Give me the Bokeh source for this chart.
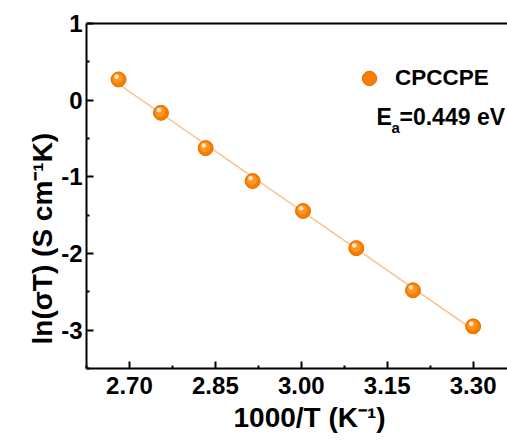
import numpy as np
from bokeh.plotting import figure
from bokeh.models import (Range1d, FixedTicker, NumeralTickFormatter, Legend, LegendItem,
                          Label, LinearAxis, ColumnDataSource, Title)
from bokeh.transform import dodge
from bokeh.embed import file_html
from bokeh.resources import INLINE

# ---- data ----
inv_T = [2.681, 2.755, 2.833, 2.915, 3.003, 3.096, 3.195, 3.300]
ln_sigma_T = [0.27, -0.165, -0.625, -1.055, -1.445, -1.93, -2.48, -2.95]
series_name = "CPCCPE"
ea_value = "=0.449 eV"
x_ticks = [2.70, 2.85, 3.00, 3.15, 3.30]
y_ticks = [-3, -2, -1, 0, 1]
y_tick_labels = ["-3", "-2", "-1", "0", "1"]
x_title = "1000/T (K\u207b\u00b9)"
y_title = "ln(\u03c3T) (S cm\u207b\u00b9K)"

FONT = "Liberation Sans"

p = figure(width=507, height=443, output_backend="svg", toolbar_location=None,
           x_range=Range1d(2.625, 3.36), y_range=Range1d(-3.5, 1.0),
           min_border_left=86, min_border_right=0, min_border_top=23, min_border_bottom=75)
p.outline_line_color = None
p.xgrid.visible = False
p.ygrid.visible = False
p.background_fill_color = "white"
p.border_fill_color = "white"

# fit line
k, b = np.polyfit(inv_T, ln_sigma_T, 1)
xl = [min(inv_T), max(inv_T)]
p.line(xl, [k * v + b for v in xl], line_color="#F9C898", line_width=1.6)

src = ColumnDataSource(dict(x=inv_T, y=ln_sigma_T))
r_base = p.scatter("x", "y", source=src, size=15, fill_color="#F67D00", line_color="#E87000", line_width=1)
r_mid = p.scatter(dodge("x", -0.0012, range=p.x_range), dodge("y", 0.012, range=p.y_range), source=src,
                  size=10, fill_color="#FF9522", line_color=None)
r_hi = p.scatter(dodge("x", -0.0035, range=p.x_range), dodge("y", 0.035, range=p.y_range), source=src,
                 size=4.5, fill_color="#FFE8D0", line_color=None)

# axes styling
for ax in (p.xaxis[0], p.yaxis[0]):
    ax.axis_line_width = 2
    ax.axis_line_color = "black"
    ax.major_tick_line_width = 2
    ax.minor_tick_line_width = 2
    ax.major_tick_in = 7
    ax.major_tick_out = 0
    ax.minor_tick_in = 3
    ax.minor_tick_out = 0
    ax.major_label_text_font = FONT
    ax.major_label_text_font_style = "bold"
    ax.major_label_text_font_size = "24px"
    ax.major_label_text_color = "black"

p.xaxis.ticker = FixedTicker(ticks=x_ticks, minor_ticks=[2.625, 2.775, 2.925, 3.075, 3.225])
p.xaxis.formatter = NumeralTickFormatter(format="0.00")
p.yaxis.ticker = FixedTicker(ticks=y_ticks, minor_ticks=[-3.5, -2.5, -1.5, -0.5, 0.5])
p.yaxis.major_label_overrides = {t: s for t, s in zip(y_ticks, y_tick_labels)}
p.xaxis.major_label_standoff = 8
p.yaxis.major_label_standoff = 4

# axis titles as side-panel titles, positioned like the reference
xt = Title(text=x_title, align="left", offset=147, text_font=FONT, text_font_style="bold",
           text_font_size="28px", text_color="black", standoff=7)
p.add_layout(xt, "below")
yt = Title(text=y_title, align="left", offset=24, text_font=FONT, text_font_style="bold",
           text_font_size="28px", text_color="black", standoff=2)
p.add_layout(yt, "left")

top = LinearAxis(ticker=FixedTicker(ticks=[]), axis_line_width=2, axis_line_color="black",
                 major_tick_line_color=None, minor_tick_line_color=None,
                 major_label_text_font_size="0px")
p.add_layout(top, "above")

legend = Legend(items=[LegendItem(label=series_name, renderers=[r_base])],
                location=(265, 272), border_line_color=None, background_fill_alpha=0,
                label_text_font=FONT, label_text_font_style="bold", label_text_font_size="22.5px",
                label_text_color="black", glyph_width=36, glyph_height=36, label_standoff=8,
                padding=0, margin=0, spacing=0)
p.add_layout(legend, "center")

p.add_layout(Label(x=290, y=239, x_units="screen", y_units="screen", text="E",
                   text_font=FONT, text_font_style="bold", text_font_size="23px", text_color="black"))
p.add_layout(Label(x=305, y=233, x_units="screen", y_units="screen", text="a",
                   text_font=FONT, text_font_style="bold", text_font_size="15px", text_color="black"))
p.add_layout(Label(x=313, y=239, x_units="screen", y_units="screen", text=ea_value,
                   text_font=FONT, text_font_style="bold", text_font_size="23px", text_color="black"))

open("out.html", "w").write(file_html(p, INLINE))
